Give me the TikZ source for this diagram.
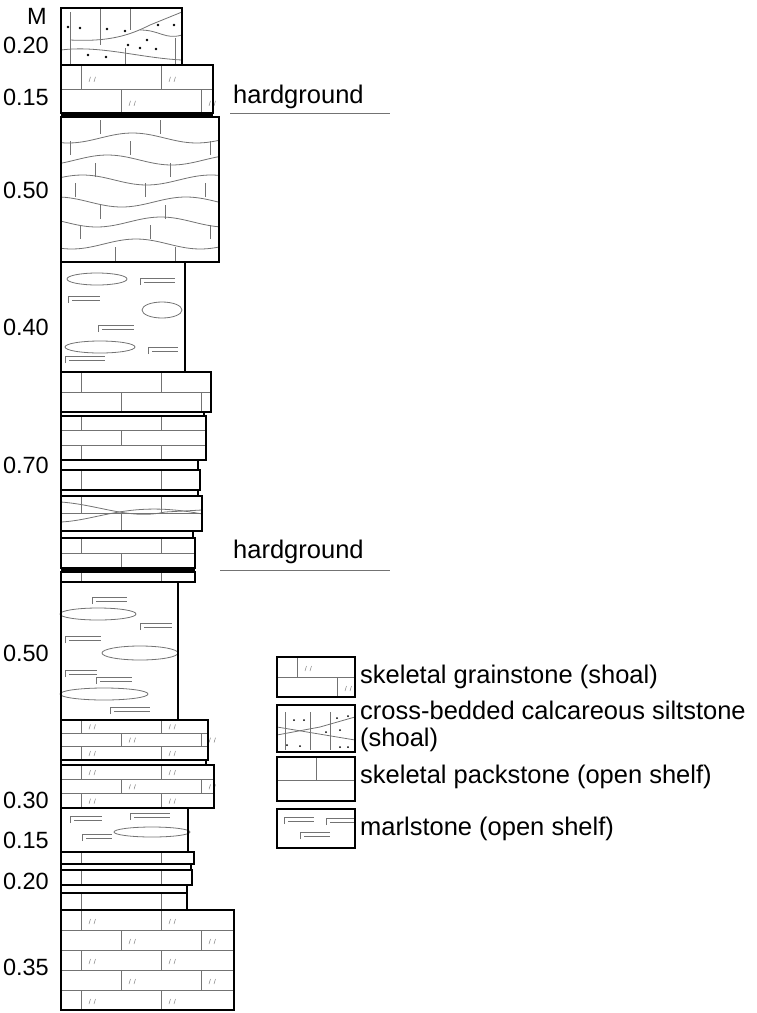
\documentclass[tikz,border=0pt]{standalone}
\usepackage{fontspec}
\setmainfont{Liberation Sans}
\usepackage{tikz}

\tikzset{
  bed/.style={draw=black, line width=1.3pt},
  joint/.style={draw=black!55, line width=0.8pt},
  grain/.style={draw=black!50, line width=0.5pt},
  hard/.style={draw=black, line width=4pt},
  thk/.style={font=\fontsize{23.5}{26}\selectfont, anchor=east, inner sep=0pt},
  lab/.style={font=\fontsize{25.5}{28}\selectfont, anchor=west, inner sep=0pt},
}

% brick bed: x0, ytop, x1, ybot, rows, grain marks (0/1)
\newcommand{\brickbed}[6]{%
  \pgfmathsetmacro\rh{(#4-#2)/#5}%
  \foreach \r in {1,...,#5}{%
    \pgfmathsetmacro\ya{#2+(\r-1)*\rh}%
    \pgfmathsetmacro\yb{#2+\r*\rh}%
    \draw[joint] (#1,\yb) -- (#3,\yb);
    \pgfmathsetmacro\off{mod(\r,2)==1 ? 0 : 40}%
    \foreach \k in {0,1,2,3}{%
      \pgfmathsetmacro\xj{#1+20+\off+\k*80}%
      \pgfmathtruncatemacro\ok{\xj<#3-6 ? 1 : 0}%
      \ifnum\ok=1
        \draw[joint] (\xj,\ya) -- (\xj,\yb);
        \ifnum#6=1
          \draw[grain] (\xj+8,\ya+\rh*0.7) -- ++(1.5,-5) (\xj+13,\ya+\rh*0.7) -- ++(1.5,-5);
        \fi
      \fi}}%
  \draw[bed] (#1,#2) rectangle (#3,#4);}

% marl mark: x, y, length
\newcommand{\marl}[3]{%
  \draw[joint] (#1,#2+7) -- (#1,#2) -- (#1+#3,#2);
  \draw[joint] (#1+4,#2+4) -- (#1+#3,#2+4);}

\begin{document}
\begin{tikzpicture}[x=1pt,y=1pt,yscale=-1]
\useasboundingbox (0,0) rectangle (757,1013);

% cross-bedded siltstone
\draw[joint] (70,40) .. controls (110,42) and (130,35) .. (150,25) -- (182,12);
\draw[joint] (61,50) .. controls (100,45) and (140,58) .. (182,60);
\draw[joint] (140,30) .. controls (160,30) and (165,40) .. (182,35);
\draw[joint] (70,12) -- (70,65) (100,8) -- (100,45) (130,8) -- (130,30) (125,48) -- (125,65) (175,38) -- (175,65);
\foreach \p in {(68,27),(80,28),(107,29),(125,31),(158,25),(174,25),(88,55),(106,57),(140,48),(156,49),(128,45),(147,40)}
  \fill \p circle (1.3);
\draw[bed] (61,8) rectangle (182,65);

% grainstone + hardground
\brickbed{61}{65}{213}{113}{2}{1}
\draw[hard] (61,114) -- (213,114);
\coordinate (hg1a) at (230,113);
\coordinate (hg1b) at (390,113);
\draw[joint] (hg1a) -- (hg1b);
\node[lab] (hg1) at (233,97) {hardground};

% nodular limestone
\foreach \y [count=\i] in {138,160,180,202,222,244}{
  \pgfmathsetmacro\ph{\i*70}
  \draw[joint] plot[domain=61:219,samples=40,smooth] (\x,{\y+5*sin((\x-61)*2.8+\ph)});
}
\foreach \y/\xs in {117/{100,160},138/{70,130,210},160/{95,170},180/{75,145,205},202/{100,165},222/{80,150,210},244/{115,175}}{
  \foreach \xx in \xs \draw[joint] (\xx,\y+3) -- (\xx,\y+17);
}
\draw[bed] (61,117) rectangle (219,262);

% marlstone
\draw[joint] (97,279) ellipse (30 and 6);
\draw[joint] (162,310) ellipse (20 and 8);
\draw[joint] (100,347) ellipse (35 and 6);
\marl{140}{278}{35} \marl{68}{296}{32} \marl{98}{325}{36} \marl{148}{347}{30} \marl{65}{356}{40}
\draw[bed] (61,262) rectangle (185,372);

% packstone beds
\brickbed{61}{372}{211}{412}{2}{0}
\draw[bed] (61,412) rectangle (204,416);
\brickbed{61}{416}{206}{460}{3}{0}
\draw[bed] (61,460) rectangle (198,470);
\brickbed{61}{470}{200}{490}{1}{0}
\draw[bed] (61,490) rectangle (198,496);
\draw[joint] (61,502) .. controls (100,505) and (130,520) .. (165,512) -- (202,510);
\draw[joint] (61,522) .. controls (100,520) and (130,500) .. (202,514);
\brickbed{61}{496}{202}{531}{2}{0}
\draw[bed] (61,531) rectangle (193,538);
\brickbed{61}{538}{195}{568}{2}{0}
\draw[hard] (61,570) -- (195,570);
\brickbed{61}{572}{195}{582}{1}{0}
\coordinate (hg2a) at (220,570);
\coordinate (hg2b) at (390,570);
\draw[joint] (hg2a) -- (hg2b);
\node[lab] (hg2) at (233,552) {hardground};

% marlstone
\draw[joint] (98,614) ellipse (38 and 6);
\draw[joint] (140,653) ellipse (38 and 7);
\draw[joint] (104,694) ellipse (44 and 6);
\marl{92}{597}{35} \marl{140}{623}{32} \marl{65}{636}{36} \marl{65}{670}{32} \marl{96}{677}{36} \marl{110}{707}{40}
\draw[bed] (61,582) rectangle (178,720);

% grainstone beds
\brickbed{61}{720}{208}{760}{3}{1}
\draw[bed] (61,760) rectangle (206,765);
\brickbed{61}{765}{214}{808}{3}{1}
\draw[joint] (152,832) ellipse (38 and 5);
\marl{70}{816}{32} \marl{130}{813}{40} \marl{82}{834}{30}
\draw[bed] (61,808) rectangle (188,852);
\brickbed{61}{852}{194}{864}{1}{0}
\draw[bed] (61,864) rectangle (191,870);
\brickbed{61}{870}{192}{885}{1}{0}
\draw[bed] (61,885) rectangle (187,893);
\brickbed{61}{893}{187}{910}{1}{0}
\brickbed{61}{910}{234}{1010}{5}{1}

% thickness labels
\node[thk] (uM) at (47,16) {M};
\foreach \y/\t [count=\i] in {45/0.20,97/0.15,190/0.50,327/0.40,465/0.70,653/0.50,800/0.30,840/0.15,881/0.20,967/0.35}
  \node[thk] (t\i) at (49,\y) {\t};

% legend
\brickbed{277}{657}{355}{697}{2}{1}
\draw[joint] (285,712) -- (285,750) (310,712) -- (310,750) (330,712) -- (330,750);
\draw[joint] (277,735) -- (320,727) -- (355,717);
\draw[joint] (277,727) -- (355,740);
\foreach \p in {(294,720),(304,720),(337,718),(348,716),(326,732),(340,730),(287,745),(300,746),(340,747),(348,747)}
  \fill \p circle (1);
\draw[bed] (277,705) rectangle (355,752);
\draw[joint] (277,780) -- (355,780) (316,757) -- (316,780);
\draw[bed] (277,757) rectangle (355,801);
\marl{284}{817}{30} \marl{326}{818}{28} \marl{300}{832}{30}
\draw[bed] (277,809) rectangle (355,848);
\node[lab] (l1) at (360,677) {skeletal grainstone (shoal)};
\node[lab] (l2) at (360,710) {cross-bedded calcareous siltstone};
\node[lab] (l2b) at (360,740) {(shoal)};
\node[lab] (l3) at (360,777) {skeletal packstone (open shelf)};
\node[lab] (l4) at (360,829) {marlstone (open shelf)};
\end{tikzpicture}
\end{document}
